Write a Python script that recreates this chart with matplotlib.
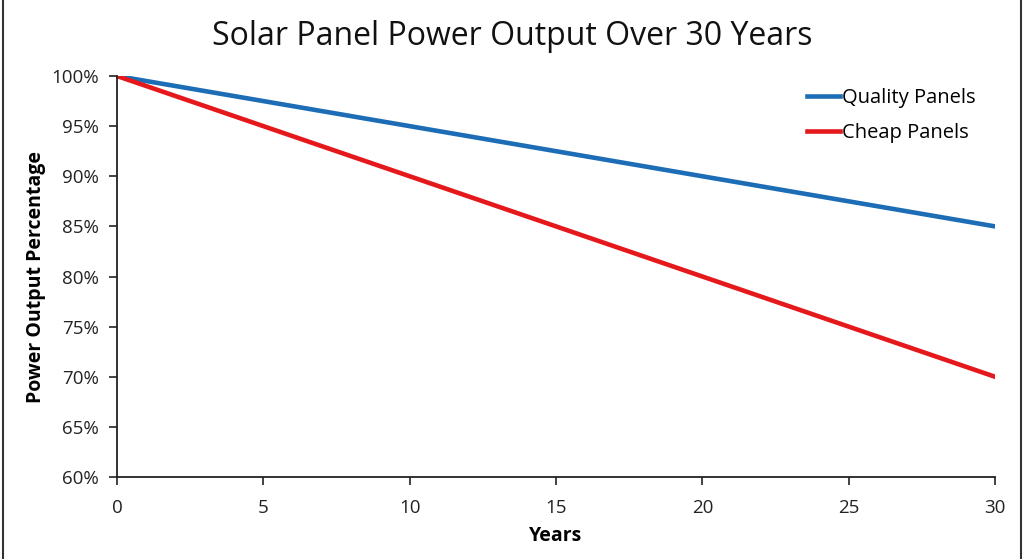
import matplotlib
matplotlib.use("Agg")
import matplotlib.pyplot as plt
from matplotlib.lines import Line2D
from matplotlib.ticker import FuncFormatter

plt.rcParams['font.family'] = ['Open Sans', 'DejaVu Sans']

years = [0, 5, 10, 15, 20, 25, 30]
quality = [100, 97.5, 95, 92.5, 90, 87.5, 85]
cheap = [100, 95, 90, 85, 80, 75, 70]

fig = plt.figure(figsize=(10.24, 5.59), dpi=100)
ax = fig.add_axes([0.1143, 0.1467, 0.8574, 0.7173])

ax.plot(years, quality, color='#1c6db5', lw=3.3, label='Quality Panels')
ax.plot(years, cheap, color='#e5181c', lw=3.3, label='Cheap Panels')

ax.set_xlim(0, 30)
ax.set_ylim(60, 100)
ax.set_xticks(range(0, 31, 5))
ax.set_yticks(range(60, 101, 5))
ax.yaxis.set_major_formatter(FuncFormatter(lambda v, p: f"{v:.0f}%"))
ax.tick_params(labelsize=13.5, length=6, width=1.2, direction='out', pad=7, colors='#222222')
ax.tick_params(axis='x', pad=10)
for s in ['top', 'right']:
    ax.spines[s].set_visible(False)
for s in ['left', 'bottom']:
    ax.spines[s].set_linewidth(1.3)
    ax.spines[s].set_color('#222222')

fig.text(0.5, 0.935, 'Solar Panel Power Output Over 30 Years', fontsize=23, color='#111111',
         ha='center', va='center')
ax.set_xlabel('Years', fontsize=14, fontweight='bold', labelpad=6)
ax.set_ylabel('Power Output Percentage', fontsize=14, fontweight='bold', labelpad=4)

ax.legend(loc='upper right', bbox_to_anchor=(0.998, 1.015), frameon=False, fontsize=14.5,
          handlelength=1.6, handletextpad=0.1, labelspacing=0.75)

# thin frame lines at left and right edge of the image
fig.add_artist(Line2D([0.003, 0.003], [0, 1], transform=fig.transFigure, color='#333333', lw=1.5))
fig.add_artist(Line2D([0.997, 0.997], [0, 1], transform=fig.transFigure, color='#333333', lw=1.5))

fig.savefig('out.png', dpi=100, facecolor='white')
